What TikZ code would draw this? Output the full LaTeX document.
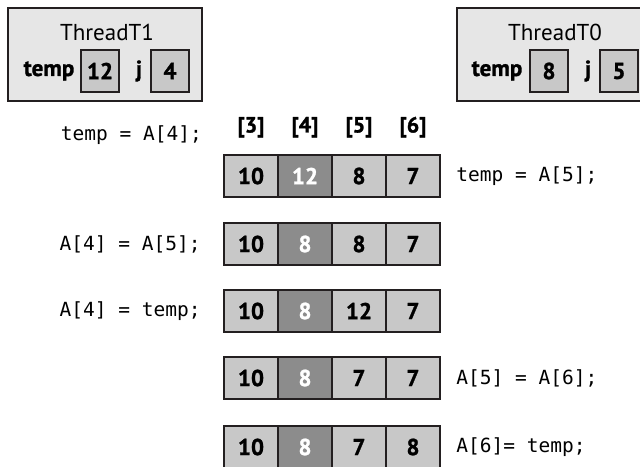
\documentclass[tikz,border=0pt]{standalone}
\usepackage{fontspec}
\setmainfont{PT Sans}
\setmonofont{DejaVu Sans Mono}
\newfontfamily\heavyfont{PT Sans}[BoldFeatures={FakeBold=1.3}]
\usetikzlibrary{positioning}

\definecolor{framegray}{RGB}{230,230,230}
\definecolor{cellgray}{RGB}{200,200,200}
\definecolor{darkcell}{RGB}{140,140,140}
\definecolor{edge}{RGB}{35,31,32}

\tikzset{
	frame/.style={draw=edge, line width=2pt, fill=framegray, minimum width=194pt, minimum height=93pt},
	varbox/.style={draw=edge, line width=2.5pt, fill=cellgray, minimum width=38pt, minimum height=42pt, inner sep=0pt, font=\heavyfont\bfseries\fontsize{23}{24}\selectfont},
	cell/.style={draw=edge, line width=2.5pt, fill=cellgray, minimum width=54pt, minimum height=42pt, inner sep=0pt, font=\heavyfont\bfseries\fontsize{23}{24}\selectfont},
	hot/.style={cell, fill=darkcell, text=white},
	code/.style={font=\ttfamily\fontsize{19.5}{22}\selectfont, inner sep=0pt},
	title/.style={font=\fontsize{23}{24}\selectfont, inner sep=0pt},
	bold/.style={font=\heavyfont\bfseries\fontsize{23}{24}\selectfont, inner sep=0pt},
	index/.style={font=\heavyfont\bfseries\fontsize{22}{24}\selectfont, inner sep=0pt}
}

\begin{document}
\begin{tikzpicture}[x=1pt, y=-1pt]

	\useasboundingbox (0,0) rectangle (640,466);
	
	% thread T1
	\node [frame] (T1) at (105,54) {};
	\node [title] (T1name) at (107,32) {ThreadT1};
	\node [bold] (T1temp) at (49,71) {temp};
	\node [varbox] (T1tval) at (100,71) {12};
	\node [bold] (T1j) at (139,71) {j};
	\node [varbox] (T1jval) at (170,71) {4};
	
	% thread T0
	\node [frame] (T0) at (554,54) {};
	\node [title] (T0name) at (555,32) {ThreadT0};
	\node [bold] (T0temp) at (497,71) {temp};
	\node [varbox] (T0tval) at (549,71) {8};
	\node [bold] (T0j) at (588,71) {j};
	\node [varbox] (T0jval) at (619,71) {5};
	
	% array rows
	\foreach \row/\va/\vb/\vc/\vd/\ypos in {1/10/12/8/7/176, 2/10/8/8/7/244, 3/10/8/12/7/311, 4/10/8/7/7/378, 5/10/8/7/8/447} {
		\node [cell] (r\row a) at (251,\ypos) {\va};
		\node [hot]  (r\row b) at (305,\ypos) {\vb};
		\node [cell] (r\row c) at (359,\ypos) {\vc};
		\node [cell] (r\row d) at (413,\ypos) {\vd};
	}
	
	\foreach \col/\idx in {a/3, b/4, c/5, d/6}
		\node [index, above=16pt of r1\col] (i\idx) {[\idx]};
	
	% statements
	\node [code, anchor=east] (s1) at (202,135) {temp = A[4];};
	\node [code, right=15pt of r1d] (s2) {temp = A[5];};
	\node [code, left=22pt of r2a] (s3) {A[4] = A[5];};
	\node [code, left=22pt of r3a] (s4) {A[4] = temp;};
	\node [code, right=15pt of r4d] (s5) {A[5] = A[6];};
	\node [code, right=15pt of r5d] (s6) {A[6]= temp;};

\end{tikzpicture}
\end{document}
